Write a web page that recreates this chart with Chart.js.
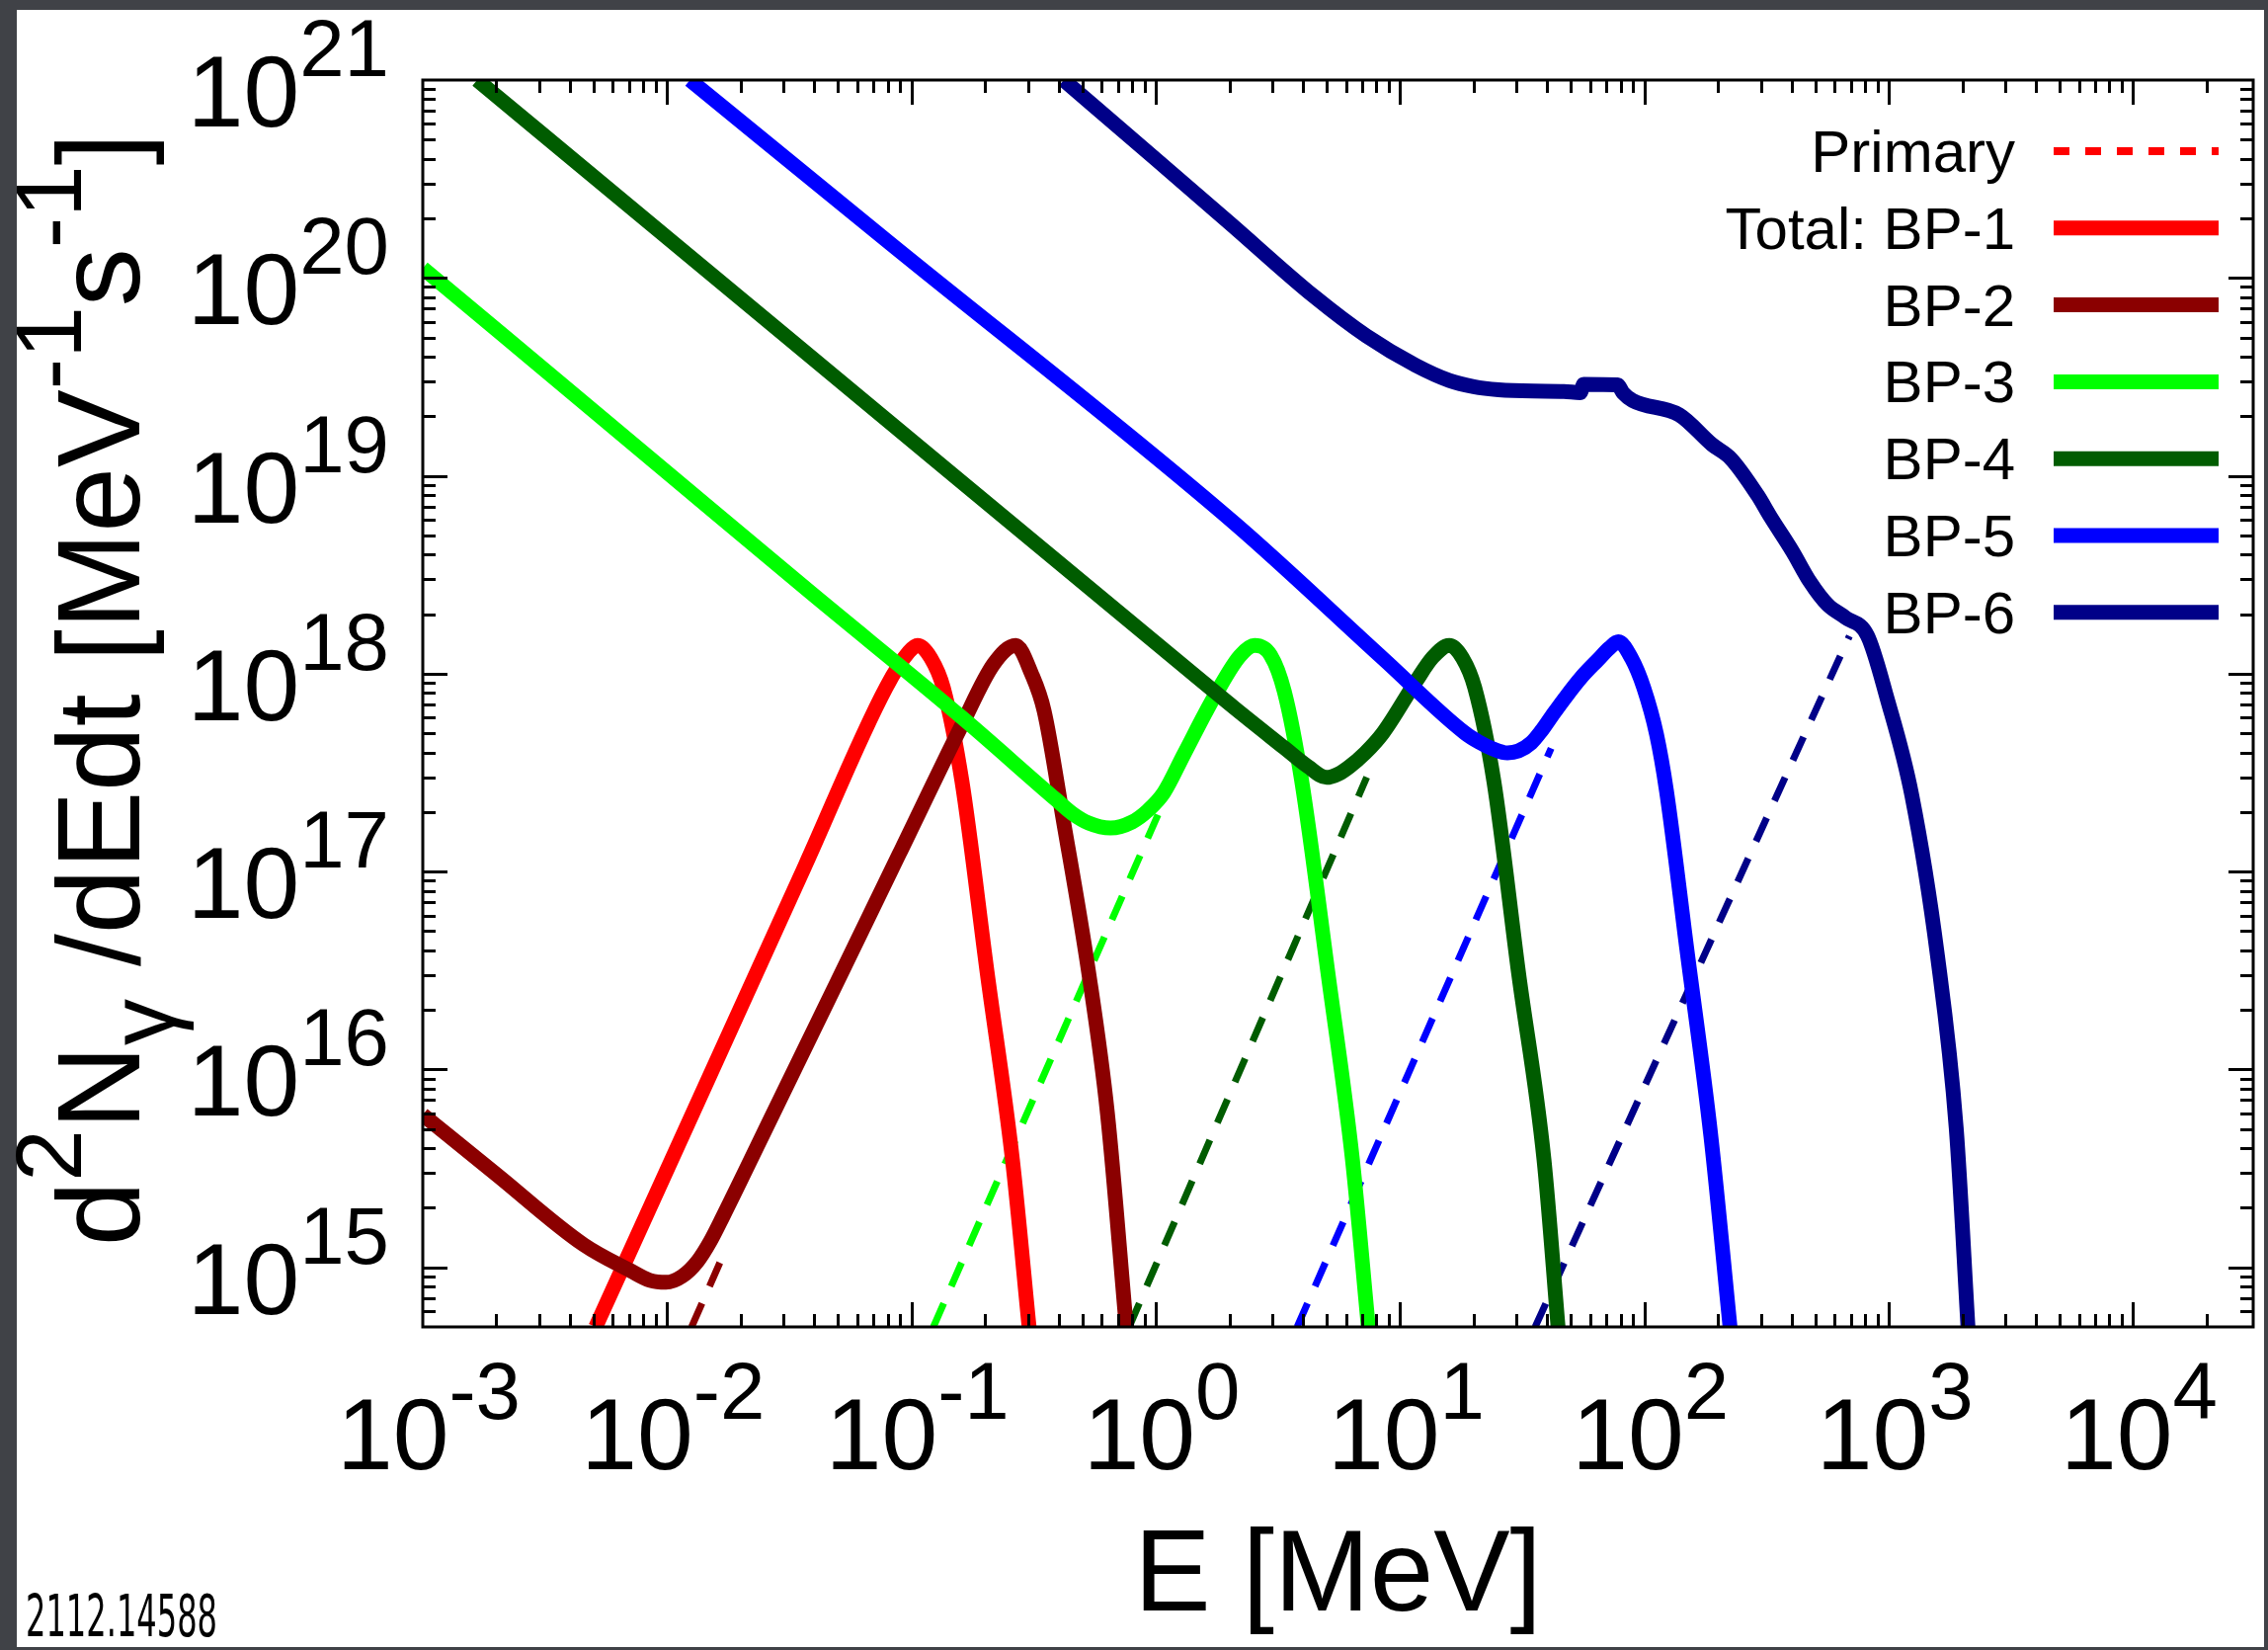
<!DOCTYPE html>
<html>
<head>
<meta charset="utf-8">
<title>Photon spectra BP-1 ... BP-6</title>
<script src="https://cdn.jsdelivr.net/npm/chart.js@4.4.1/dist/chart.umd.min.js"></script>
<style>
  html, body { margin: 0; padding: 0; background: #404247; }
  canvas { display: block; }
</style>
</head>
<body>
<canvas id="spectrumChart" width="2296" height="1670"></canvas>
<script>
// values: E in MeV, d2N/dEdt in MeV^-1 s^-1
var bp1Energy = [0.0051, 0.0150, 0.0367, 0.0787, 0.0977, 0.106, 0.120, 0.135, 0.161, 0.204, 0.259, 0.303];
var bp1Flux   = [5.0e14, 9.4e15, 1.07e17, 8.5e17, 1.29e18, 1.39e18, 1.2e18, 8.5e17, 2.85e17, 3.1e16, 3.5e15, 5.0e14];

var bp2Energy = [0.001, 0.002, 0.00456, 0.0071, 0.0085, 0.0099, 0.0115, 0.0133, 0.0150, 0.0169, 0.0273, 0.049, 0.0889, 0.161, 0.217, 0.267, 0.31, 0.349, 0.417, 0.531, 0.634, 0.757];
var bp2Flux   = [5.9e15, 2.95e15, 1.3e15, 9.6e14, 8.6e14, 8.4e14, 9.0e14, 1.07e15, 1.35e15, 1.8e15, 6.07e15, 2.68e16, 1.22e17, 5.52e17, 1.12e18, 1.39e18, 1.0e18, 6.5e17, 1.86e17, 3.1e16, 6.0e15, 5.0e14];

var bp3Energy = [0.001, 0.01, 0.0388, 0.161, 0.394, 0.46, 0.531, 0.652, 0.80, 0.93, 1.08, 1.3, 1.73, 2.21, 2.54, 2.95, 3.36, 3.95, 5.06, 6.38, 7.41];
var bp3Flux   = [1.12e20, 1.04e19, 2.56e18, 6.0e17, 2.29e17, 1.95e17, 1.76e17, 1.66e17, 1.78e17, 2.04e17, 2.51e17, 3.89e17, 7.59e17, 1.23e18, 1.39e18, 1.24e18, 8.1e17, 2.9e17, 3.1e16, 3.5e15, 5.0e14];

var bp4Energy = [0.00167, 0.01, 0.1, 1.0, 2.11, 3.36, 4.2, 5.0, 5.6, 6.2, 7.2, 8.5, 11.6, 13.6, 15.9, 18.0, 20.2, 24.2, 30.5, 38.8, 44.3];
var bp4Flux   = [1.0e21, 1.6e20, 1.51e19, 1.43e18, 6.68e17, 4.22e17, 3.39e17, 2.99e17, 3.12e17, 3.39e17, 3.98e17, 5.01e17, 9.12e17, 1.21e18, 1.39e18, 1.2e18, 8.5e17, 2.85e17, 3.1e16, 3.5e15, 5.0e14];

var bp5Energy = [0.0124, 0.081, 2.11, 8.53, 18.45, 21.0, 24.0, 27.5, 30.5, 34.4, 37.8, 42.0, 46.8, 55.0, 64.3, 72.0, 78.2, 88.4, 99.3, 112, 123, 149, 187, 224];
var bp5Flux   = [1.0e21, 1.51e20, 5.73e18, 1.19e18, 5.01e17, 4.52e17, 4.17e17, 3.98e17, 4.07e17, 4.47e17, 5.13e17, 6.17e17, 7.41e17, 9.55e17, 1.17e18, 1.35e18, 1.45e18, 1.2e18, 8.5e17, 4.95e17, 2.57e17, 4.07e16, 4.6e15, 5.0e14];

var bp6Energy = [0.42, 1.0, 2.0, 4.44, 7.28, 11.6, 15.9, 20.0, 25.3, 35.0, 46.8, 54.6, 56.4, 77.5, 81.8, 89.4, 139, 189, 226, 290, 328, 403, 476, 562, 665, 817, 984, 1242, 1581, 1888, 2109];
var bp6Flux   = [1.0e21, 3.98e20, 1.90e20, 8.07e19, 5.09e19, 3.61e19, 3.03e19, 2.82e19, 2.72e19, 2.68e19, 2.67e19, 2.63e19, 2.90e19, 2.88e19, 2.62e19, 2.40e19, 2.03e19, 1.44e19, 1.22e19, 8.0e18, 6.2e18, 4.16e18, 2.91e18, 2.23e18, 1.92e18, 1.56e18, 7.5e17, 2.43e17, 3.78e16, 5.05e15, 5.0e14];

// primary (dashed) spectra, start / end of each visible segment
var prim1Energy = [0.0051, 0.075];  var prim1Flux = [5.0e14, 7.5e17];
var prim2Energy = [0.0126, 0.0170]; var prim2Flux = [5.0e14, 1.16e15];
var prim3Energy = [0.123, 1.08];    var prim3Flux = [5.0e14, 2.27e17];
var prim4Energy = [0.778, 7.3];     var prim4Flux = [5.0e14, 3.0e17];
var prim5Energy = [3.79, 41.5];     var prim5Flux = [5.0e14, 4.2e17];
var prim6Energy = [35.7, 690];      var prim6Flux = [5.0e14, 1.55e18];

var xTickExps = [-3, -2, -1, 0, 1, 2, 3, 4];
var yTickExps = [15, 16, 17, 18, 19, 20, 21];

var FONT = '"Liberation Sans", Arial, Helvetica, sans-serif';

function pts(es, fs) {
    return es.map(function(e, i) { return { x: e, y: fs[i] }; });
}

function solid(label, color, es, fs, rank) {
    return {
        label: label, data: pts(es, fs), borderColor: color, borderWidth: 15,
        pointRadius: 0, fill: false, cubicInterpolationMode: 'monotone',
        clip: 0, order: 10 - rank, legendRank: rank
    };
}

function dashed(label, color, es, fs, rank) {
    return {
        label: label, data: pts(es, fs), borderColor: color, borderWidth: 7,
        borderDash: [26, 19], pointRadius: 0, fill: false,
        clip: 0, order: 100, legendRank: rank
    };
}

var datasets = [
    solid('Total: BP-1', '#ff0000', bp1Energy, bp1Flux, 1),
    solid('BP-2', '#8b0000', bp2Energy, bp2Flux, 2),
    solid('BP-3', '#00ff00', bp3Energy, bp3Flux, 3),
    solid('BP-4', '#005c00', bp4Energy, bp4Flux, 4),
    solid('BP-5', '#0000ff', bp5Energy, bp5Flux, 5),
    solid('BP-6', '#000088', bp6Energy, bp6Flux, 6),
    dashed('Primary', '#ff0000', prim1Energy, prim1Flux, 0),
    dashed('', '#8b0000', prim2Energy, prim2Flux, -1),
    dashed('', '#00ff00', prim3Energy, prim3Flux, -1),
    dashed('', '#005c00', prim4Energy, prim4Flux, -1),
    dashed('', '#0000ff', prim5Energy, prim5Flux, -1),
    dashed('', '#000088', prim6Energy, prim6Flux, -1)
];

// text with gnuplot-style super/subscripts: segments [text, shift] shift 1 = sup, -1 = sub
function richWidth(ctx, segs, size) {
    var w = 0;
    segs.forEach(function(s) {
        ctx.font = (s[1] ? size * 0.8 : size) + 'px ' + FONT;
        w += ctx.measureText(s[0]).width;
    });
    return w;
}

function drawRich(ctx, segs, x, y, size, align) {
    var w = richWidth(ctx, segs, size);
    var cx = align === 'right' ? x - w : (align === 'center' ? x - w / 2 : x);
    ctx.textAlign = 'left';
    ctx.textBaseline = 'alphabetic';
    segs.forEach(function(s) {
        ctx.font = (s[1] ? size * 0.8 : size) + 'px ' + FONT;
        var dy = s[1] === 1 ? -size * 0.5 : (s[1] === -1 ? size * 0.3 : 0);
        ctx.fillText(s[0], cx, y + dy);
        cx += ctx.measureText(s[0]).width;
    });
}

var gnuplotFrame = {
    id: 'gnuplotFrame',
    beforeDraw: function(chart) {
        var c = chart.ctx;
        c.save();
        c.fillStyle = '#404247';
        c.fillRect(0, 0, chart.width, chart.height);
        c.fillStyle = '#ffffff';
        c.fillRect(17, 10, 2275, 1657);
        c.restore();
    },
    afterDraw: function(chart) {
        var c = chart.ctx, a = chart.chartArea;
        var xs = chart.scales.x, ys = chart.scales.y;
        c.save();
        c.strokeStyle = '#000';
        c.fillStyle = '#000';
        c.lineWidth = 3;
        c.setLineDash([]);

        // frame
        c.strokeRect(a.left, a.top, a.right - a.left, a.bottom - a.top);

        // inward ticks on all four sides
        c.beginPath();
        var e, k, v, p, len;
        for (e = -3; e <= 4; e++) {
            for (k = 1; k <= 9; k++) {
                v = k * Math.pow(10, e);
                if (v < xs.min || v > xs.max) continue;
                p = Math.round(xs.getPixelForValue(v)) + 0.5;
                if (p - a.left < 5 || a.right - p < 5) continue;
                len = k === 1 ? 25 : 13;
                c.moveTo(p, a.bottom); c.lineTo(p, a.bottom - len);
                c.moveTo(p, a.top); c.lineTo(p, a.top + len);
            }
        }
        for (e = 14; e <= 21; e++) {
            for (k = 1; k <= 9; k++) {
                v = k * Math.pow(10, e);
                if (v < ys.min || v > ys.max) continue;
                p = Math.round(ys.getPixelForValue(v)) + 0.5;
                if (p - a.top < 5 || a.bottom - p < 5) continue;
                len = k === 1 ? 25 : 13;
                c.moveTo(a.left, p); c.lineTo(a.left + len, p);
                c.moveTo(a.right, p); c.lineTo(a.right - len, p);
            }
        }
        c.stroke();

        // tick labels
        xTickExps.forEach(function(ex) {
            var px = xs.getPixelForValue(Math.pow(10, ex));
            drawRich(c, [['10', 0], [String(ex), 1]], px + 6, a.bottom + 144, 102, 'center');
        });
        yTickExps.forEach(function(ex) {
            var py = ys.getPixelForValue(Math.pow(10, ex));
            drawRich(c, [['10', 0], [String(ex), 1]], a.left - 34, py + 47, 102, 'right');
        });

        // axis titles
        drawRich(c, [['E [MeV]', 0]], (a.left + a.right) / 2, 1630, 116, 'center');
        c.save();
        c.translate(141, 698);
        c.rotate(-Math.PI / 2);
        drawRich(c, [['d', 0], ['2', 1], ['N', 0], ['\u03b3', -1], [' /dEdt [MeV', 0], ['-1', 1], ['s', 0], ['-1', 1], [']', 0]], 0, 0, 118, 'center');
        c.restore();

        // key, top right inside the frame
        var rows = chart.data.datasets.filter(function(d) { return d.legendRank >= 0; })
            .sort(function(p1, p2) { return p1.legendRank - p2.legendRank; });
        rows.forEach(function(d, i) {
            var ry = 153 + i * 77.8;
            c.font = '60px ' + FONT;
            c.textAlign = 'right';
            c.textBaseline = 'alphabetic';
            c.fillStyle = '#000';
            c.fillText(d.label, 2040, ry + 21);
            c.beginPath();
            c.strokeStyle = d.borderColor;
            if (d.borderDash) {
                c.lineWidth = 8;
                c.setLineDash([16, 16]);
            } else {
                c.lineWidth = 15;
                c.setLineDash([]);
            }
            c.moveTo(2079, ry);
            c.lineTo(2246, ry);
            c.stroke();
        });
        c.setLineDash([]);

        // arXiv id in the corner
        c.font = '58px "Liberation Sans Narrow", "DejaVu Sans Condensed", ' + FONT;
        var idText = '2112.14588';
        var idw = c.measureText(idText).width;
        c.save();
        c.translate(26, 1656);
        c.scale(194 / idw, 1);
        c.textAlign = 'left';
        c.fillStyle = '#000';
        c.fillText(idText, 0, 0);
        c.restore();

        c.restore();
    }
};

var ctx = document.getElementById('spectrumChart').getContext('2d');
var spectrumChart = new Chart(ctx, {
    type: 'line',
    data: { datasets: datasets },
    options: {
        responsive: false,
        animation: false,
        devicePixelRatio: 1,
        layout: { padding: { left: 428, top: 81, right: 15, bottom: 327 } },
        scales: {
            x: { type: 'logarithmic', min: 1e-3, max: 3.1e4, display: false },
            y: { type: 'logarithmic', min: 5e14, max: 1e21, display: false }
        },
        plugins: {
            legend: { display: false },
            tooltip: { enabled: false }
        }
    },
    plugins: [gnuplotFrame]
});
</script>
</body>
</html>
